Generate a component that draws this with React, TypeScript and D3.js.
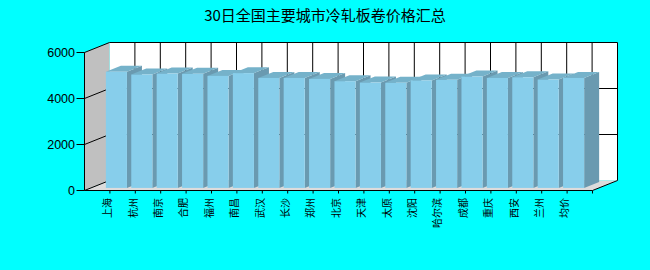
import React from "react";
import * as d3 from "d3";

const title = "30日全国主要城市冷轧板卷价格汇总";
const categories = ["上海", "杭州", "南京", "合肥", "福州", "南昌", "武汉", "长沙", "郑州", "北京", "天津", "太原", "沈阳", "哈尔滨", "成都", "重庆", "西安", "兰州", "均价"];
const prices = [5050, 4930, 4970, 4960, 4870, 4990, 4780, 4780, 4740, 4640, 4580, 4570, 4670, 4700, 4840, 4780, 4810, 4710, 4780];
const yTicks = [0, 2000, 4000, 6000];

const W = 650, H = 270;
const X0 = 84.5, X1 = 592.5, Y0 = 190.5, YT = 52.5;
const DX = 25, DY = -10;
const F0 = 0.26, F1 = 0.86;
const FONT = "'Liberation Sans', Arial, 'Noto Sans CJK SC', sans-serif";
const CJK = "'Noto Sans CJK SC', 'Liberation Sans', sans-serif";

export default function App() {
  const x = d3.scaleLinear().domain([0, categories.length + 1]).range([X0, X1]);
  const y = d3.scaleLinear().domain([0, 6000]).range([Y0, YT]);
  const step = x(1) - x(0);
  const bw = step * 0.83;
  const pts = (arr: [number, number][]) => arr.map((p) => p.join(",")).join(" ");

  return (
    <svg width={W} height={H} style={{ position: "fixed", left: 0, top: 0, display: "block" }}>
      <rect x={0} y={0} width={W} height={H} fill="#00FFFF" />
      <text x={325} y={21} textAnchor="middle" fontSize={15} fontFamily={CJK} fill="#000">{title}</text>
      {/* back wall */}
      <rect x={X0 + DX} y={YT + DY} width={X1 - X0} height={Y0 - YT} fill="#FFFFFF" />
      {/* left wall */}
      <polygon points={pts([[X0, Y0], [X0, YT], [X0 + DX, YT + DY], [X0 + DX, Y0 + DY]])} fill="#C0C0C0" />
      {/* floor */}
      <polygon points={pts([[X0, Y0], [X1, Y0], [X1 + DX, Y0 + DY], [X0 + DX, Y0 + DY]])} fill="#DCDCDC" />
      {/* grid */}
      {yTicks.map((t) => (
        <g key={"g" + t}>
          <line x1={X0} y1={y(t)} x2={X0 + DX} y2={y(t) + DY} stroke="#000" />
          {t > 0 && <line x1={X0 + DX} y1={y(t) + DY} x2={X1 + DX} y2={y(t) + DY} stroke="#000" />}
        </g>
      ))}
      {categories.map((c, i) => (
        <line key={"v" + c} x1={x(i + 1) + DX} y1={YT + DY} x2={x(i + 1) + DX} y2={Y0 + DY} stroke="#000" />
      ))}
      <line x1={X1 + DX} y1={YT + DY} x2={X1 + DX} y2={Y0 + DY} stroke="#000" />
      <line x1={X1} y1={Y0} x2={X1 + DX} y2={Y0 + DY} stroke="#000" />
      {/* bars */}
      {prices.map((v, i) => {
        const cx = x(i + 1);
        const l = cx - bw / 2 + F0 * DX;
        const r = cx + bw / 2 + F0 * DX;
        const b = Y0 + F0 * DY;
        const t = y(v) + F0 * DY;
        const ddx = (F1 - F0) * DX, ddy = (F1 - F0) * DY;
        return (
          <g key={"b" + i}>
            <polygon points={pts([[r, b], [r, t], [r + ddx, t + ddy], [r + ddx, b + ddy]])} fill="#6A9AB0" />
            <polygon points={pts([[l, t], [r, t], [r + ddx, t + ddy], [l + ddx, t + ddy]])} fill="#75B2CA" />
            <rect x={l} y={t} width={r - l} height={b - t} fill="#87CEEB" />
          </g>
        );
      })}
      {/* axes */}
      <line x1={X0} y1={Y0} x2={X0} y2={YT} stroke="#000" />
      <line x1={X0} y1={Y0} x2={X1} y2={Y0} stroke="#000" />
      {yTicks.map((t) => (
        <g key={"yt" + t}>
          <line x1={X0 - 8} y1={y(t)} x2={X0} y2={y(t)} stroke="#000" />
          <text x={75} y={y(t) + 4.5} textAnchor="end" fontSize={12.5} fontFamily={FONT} fill="#000">{t}</text>
        </g>
      ))}
      {categories.map((c, i) => (
        <g key={"xt" + c}>
          <line x1={x(i + 1)} y1={Y0} x2={x(i + 1)} y2={Y0 + 3} stroke="#000" />
          <text transform={`translate(${x(i + 1) - 1.5},198) rotate(-90)`} textAnchor="end" dominantBaseline="middle" fontSize={10} fontFamily={CJK} fill="#000">{c}</text>
        </g>
      ))}
      <line x1={X1} y1={Y0} x2={X1} y2={Y0 + 3} stroke="#000" />
    </svg>
  );
}
